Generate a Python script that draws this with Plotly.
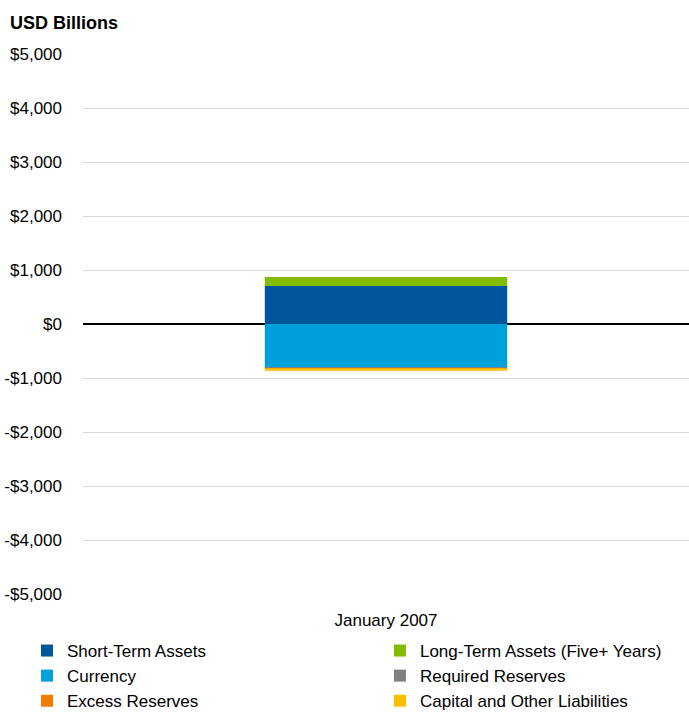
import plotly.graph_objects as go

categories = ["January 2007"]
series_names = ["Short-Term Assets", "Long-Term Assets (Five+ Years)", "Currency",
                "Required Reserves", "Excess Reserves", "Capital and Other Liabilities"]
short_term = [704]
long_term = [166]
currency = [-809]
required_reserves = [-10]
excess_reserves = [-2]
capital_other = [-45]
series_values = [short_term, long_term, currency, required_reserves, excess_reserves, capital_other]
colors = ["#00559b", "#82bc00", "#00a0dc", "#808080", "#f07d00", "#fbbf00"]
legend_groups = ["legend", "legend2", "legend", "legend2", "legend", "legend2"]

tick_vals = [5000, 4000, 3000, 2000, 1000, 0, -1000, -2000, -3000, -4000, -5000]
tick_text = ["$5,000", "$4,000", "$3,000", "$2,000", "$1,000", "$0",
             "-$1,000", "-$2,000", "-$3,000", "-$4,000", "-$5,000"]

font_family = "Arial, Liberation Sans, sans-serif"

fig = go.Figure()
for name, vals, col, lg in zip(series_names, series_values, colors, legend_groups):
    fig.add_trace(go.Bar(x=categories, y=vals, name=name, marker_color=col,
                         marker_line_width=0, width=0.4, legend=lg))

legend_common = dict(orientation="v", yanchor="top", xanchor="left", traceorder="normal",
                     font=dict(family=font_family, size=17, color="#000000"),
                     bgcolor="rgba(0,0,0,0)", itemclick=False, itemdoubleclick=False)

fig.update_layout(
    barmode="relative",
    width=689, height=713,
    margin=dict(l=83, r=0, t=54, b=119, autoexpand=False),
    plot_bgcolor="white", paper_bgcolor="white",
    font=dict(family=font_family, size=17, color="#000000"),
    showlegend=True,
    legend=dict(x=-0.0924, y=-0.0722, **legend_common),
    legend2=dict(x=0.490, y=-0.0722, **legend_common),
    annotations=[dict(text="<b>USD Billions</b>", xref="paper", yref="paper",
                      x=(8 - 83) / 606, y=(594 - 23) / 540, xanchor="left", yanchor="middle",
                      showarrow=False,
                      font=dict(family=font_family, size=18, color="#000000"))],
)
fig.update_yaxes(range=[-5000, 5000], tickvals=tick_vals, ticktext=tick_text,
                 showgrid=True, gridcolor="#d9d9d9", gridwidth=1,
                 zeroline=True, zerolinecolor="#000000", zerolinewidth=1.5,
                 showline=False, ticks="", ticklabelstandoff=20,
                 tickfont=dict(family=font_family, size=17))
fig.update_xaxes(showgrid=False, showline=False, ticks="", ticklabelstandoff=14,
                 tickfont=dict(family=font_family, size=17))

fig.write_html("out.html", config={"displayModeBar": False},
               post_script="document.body.style.margin='0';document.body.style.overflow='hidden';")
